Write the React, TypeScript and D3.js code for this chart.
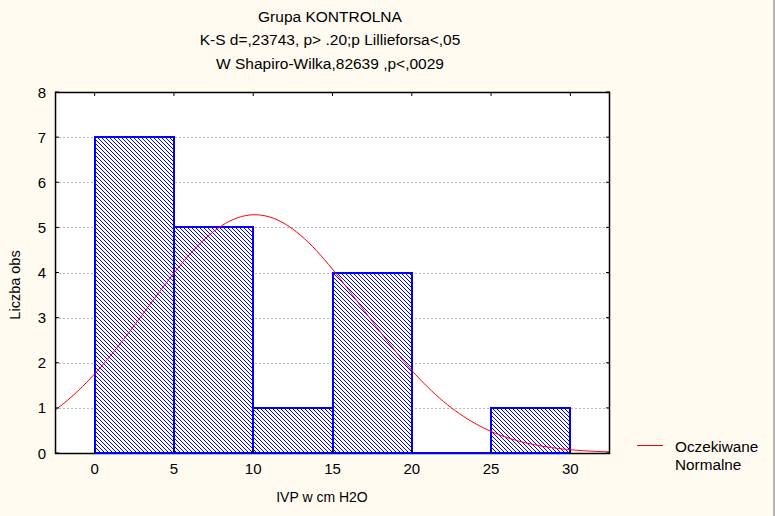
import React from "react";
import * as d3 from "d3";

const titleLines = [
  "Grupa KONTROLNA",
  "K-S d=,23743, p> .20;p Lillieforsa<,05",
  "W Shapiro-Wilka,82639 ,p<,0029",
];
const binStarts = [0, 5, 10, 15, 20, 25];
const binWidth = 5;
const counts = [7, 5, 1, 4, 0, 1];
const xTicks = [0, 5, 10, 15, 20, 25, 30];
const yTicks = [0, 1, 2, 3, 4, 5, 6, 7, 8];
const fitMean = 10.1;
const fitSd = 6.8;
const nObs = 18;
const xLabel = "IVP w cm H2O";
const yLabel = "Liczba obs";
const legendLines = ["Oczekiwane", "Normalne"];

const W = 775;
const H = 516;
const left = 55;
const right = 610;
const top = 92;
const bottom = 453;
const font = "'Liberation Sans', Arial, sans-serif";

export default function App() {
  const x = d3.scaleLinear().domain([-2.5, 32.5]).range([left, right]);
  const y = d3.scaleLinear().domain([0, 8]).range([bottom, top]);

  const expected = (v: number) =>
    (nObs * binWidth) / (fitSd * Math.sqrt(2 * Math.PI)) *
    Math.exp(-((v - fitMean) ** 2) / (2 * fitSd * fitSd));
  const curveX = d3.range(-2.5, 32.5001, 0.25);
  const line = d3
    .line<number>()
    .x((d) => x(d))
    .y((d) => y(expected(d)));

  return (
    <svg
      width={W}
      height={H}
      style={{ position: "absolute", left: 0, top: 0 }}
      fontFamily={font}
    >
      <defs>
        <pattern id="hatch" patternUnits="userSpaceOnUse" width={4} height={4}>
          <rect width={4} height={4} fill="#ffffff" />
          <rect x={0} y={0} width={1} height={1} fill="#0000ff" />
          <rect x={1} y={1} width={1} height={1} fill="#0000ff" />
          <rect x={2} y={2} width={1} height={1} fill="#0000ff" />
          <rect x={3} y={3} width={1} height={1} fill="#0000ff" />
        </pattern>
        <clipPath id="plotClip">
          <rect x={left} y={top} width={right - left} height={bottom - top} />
        </clipPath>
      </defs>
      <rect width={W} height={H} fill="#fffbf0" />
      <rect x={773} y={0} width={2} height={H} fill="#b4b4b4" />

      {titleLines.map((t, i) => (
        <text
          key={i}
          x={330}
          y={16 + i * 23.5}
          textAnchor="middle"
          dominantBaseline="central"
          fontSize={15.5}
          fill="#000"
        >
          {t}
        </text>
      ))}

      <rect x={left} y={top} width={right - left} height={bottom - top} fill="#fff" />

      {yTicks.slice(1, -1).map((t) => (
        <line
          key={t}
          x1={left}
          x2={right}
          y1={Math.round(y(t)) + 0.5}
          y2={Math.round(y(t)) + 0.5}
          stroke="#b8b8b8"
          strokeDasharray="2,2"
        />
      ))}

      {binStarts.map((s, i) => (
        <rect
          key={s}
          x={Math.round(x(s))}
          y={Math.round(y(counts[i]))}
          width={Math.round(x(s + binWidth)) - Math.round(x(s))}
          height={Math.round(y(0)) - Math.round(y(counts[i]))}
          fill="url(#hatch)"
          stroke="#0000ff"
          strokeWidth={2}
        />
      ))}

      <path
        d={line(curveX) || ""}
        fill="none"
        stroke="#ff0000"
        strokeWidth={1}
        clipPath="url(#plotClip)"
      />

      <rect
        x={left + 0.5}
        y={top + 0.5}
        width={right - left - 1}
        height={bottom - top}
        fill="none"
        stroke="#000"
        strokeWidth={1.5}
      />
      <line x1={x(0)} x2={x(30)} y1={bottom} y2={bottom} stroke="#0000ff" strokeWidth={2} />

      {yTicks.map((t) => (
        <g key={t}>
          <line x1={left} x2={left + 4} y1={y(t)} y2={y(t)} stroke="#000" />
          <line x1={right - 4} x2={right} y1={y(t)} y2={y(t)} stroke="#000" />
          <text
            x={46}
            y={y(t)}
            textAnchor="end"
            dominantBaseline="central"
            fontSize={15}
          >
            {t}
          </text>
        </g>
      ))}
      {xTicks.map((t) => (
        <g key={t}>
          <line x1={x(t)} x2={x(t)} y1={top} y2={top + 4} stroke="#000" />
          <line x1={x(t)} x2={x(t)} y1={bottom - 3} y2={bottom} stroke="#000" />
          <text
            x={x(t)}
            y={468.5}
            textAnchor="middle"
            dominantBaseline="central"
            fontSize={15}
          >
            {t}
          </text>
        </g>
      ))}

      <text
        x={322}
        y={497}
        textAnchor="middle"
        dominantBaseline="central"
        fontSize={14}
      >
        {xLabel}
      </text>
      <text
        transform={`translate(15,285) rotate(-90)`}
        textAnchor="middle"
        dominantBaseline="central"
        fontSize={14.5}
      >
        {yLabel}
      </text>

      <line x1={637} x2={663} y1={445.5} y2={445.5} stroke="#ff0000" strokeWidth={1} />
      {legendLines.map((t, i) => (
        <text key={i} x={675} y={452 + i * 17.5} fontSize={15.3}>
          {t}
        </text>
      ))}
    </svg>
  );
}
